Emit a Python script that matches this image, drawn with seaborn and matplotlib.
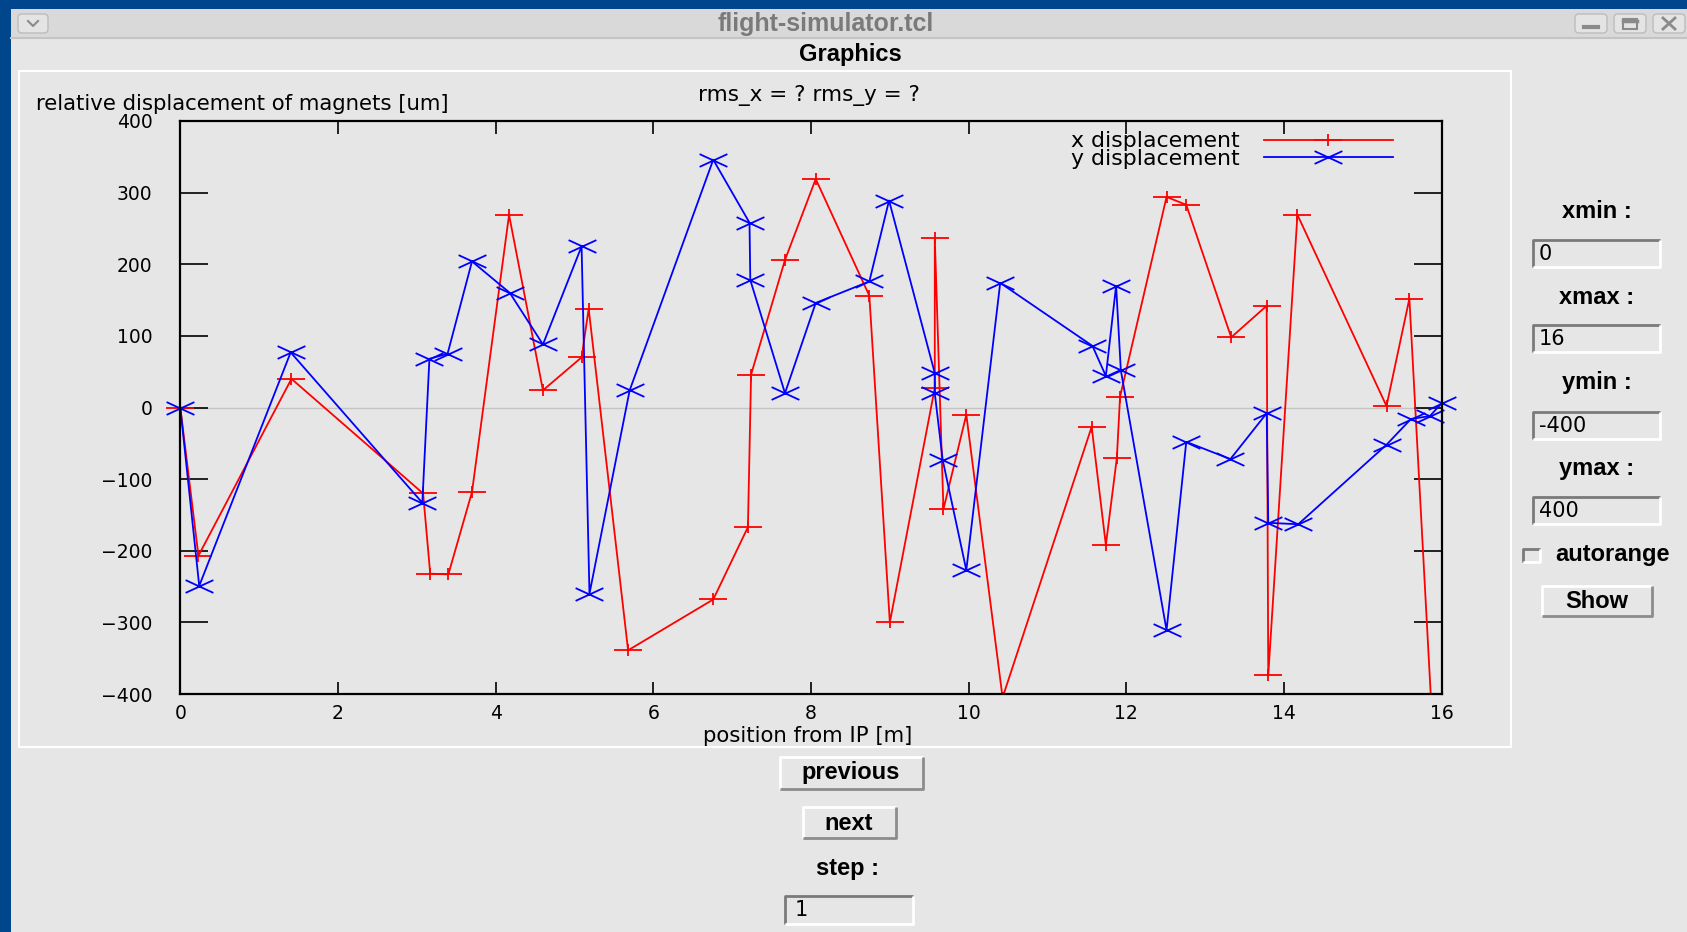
import matplotlib
matplotlib.use('Agg')
import matplotlib.pyplot as plt
from matplotlib.patches import Rectangle, FancyBboxPatch
from matplotlib.path import Path
from matplotlib.transforms import Bbox, TransformedBbox
import seaborn as sns
import pandas as pd

# --- data ---
x_pos = [0.0, 0.23, 1.41, 3.08, 3.17, 3.40, 3.70, 4.17, 4.60, 5.09, 5.18, 5.68,
         6.76, 7.20, 7.24, 7.67, 8.06, 8.74, 9.00, 9.57, 9.57, 9.68, 9.97, 10.43,
         11.56, 11.74, 11.88, 11.92, 12.51, 12.76, 13.33, 13.78, 13.80, 14.17,
         15.30, 15.59, 15.88]
x_disp = [0, -207, 40, -120, -232, -233, -118, 269, 24, 70, 138, -339,
          -268, -167, 46, 206, 319, 156, -300, 27, 237, -142, -10, -405,
          -27, -192, -70, 15, 294, 283, 98, 142, -374, 269,
          2, 152, -440]

y_pos = [0.0, 0.24, 1.40, 3.07, 3.16, 3.39, 3.70, 4.18, 4.60, 5.09, 5.19, 5.70,
         6.76, 7.22, 7.23, 7.67, 8.06, 8.74, 8.99, 9.57, 9.57, 9.67, 9.97, 10.40,
         11.57, 11.74, 11.87, 11.93, 12.51, 12.76, 13.32, 13.78, 13.80, 14.18,
         15.30, 15.61, 15.85, 16.0]
y_disp = [0, -249, 77, -133, 68, 75, 204, 160, 88, 225, -260, 24,
          346, 258, 178, 20, 146, 176, 289, 48, 20, -73, -227, 174,
          86, 44, 170, 52, -311, -48, -72, -8, -161, -163,
          -52, -16, -12, 6]

x_ticks = [0, 2, 4, 6, 8, 10, 12, 14, 16]
y_ticks = [-400, -300, -200, -100, 0, 100, 200, 300, 400]

df_x = pd.DataFrame({'pos': x_pos, 'disp': x_disp})
df_y = pd.DataFrame({'pos': y_pos, 'disp': y_disp})

# Config
W, H = 1687, 932
BLUE = '#00468c'
BG = '#e6e6e6'
FONT = 'DejaVu Sans'
GUI_FONT = 'Liberation Sans'
GUI_SIZE = 17

# gnuplot style wide markers
M, L = Path.MOVETO, Path.LINETO
plus_mark = Path([(-1, 0), (1, 0), (0, -0.43), (0, 0.43)], [M, L, M, L])
cross_mark = Path([(-1, -0.46), (1, 0.46), (-1, 0.46), (1, -0.46)], [M, L, M, L])

fig = plt.figure(figsize=(W / 100, H / 100), dpi=100)
fig.patch.set_facecolor(BLUE)

# =======================================================================
# window decoration (pixel coordinates)
# =======================================================================
gui = fig.add_axes([0, 0, 1, 1])
gui.set_xlim(0, W)
gui.set_ylim(H, 0)
gui.axis('off')


def bevel(x0, y0, x1, y1, raised=True, face=BG):
  gui.add_patch(Rectangle((x0, y0), x1 - x0, y1 - y0, fc=face, ec='none'))
  light, dark = ('white', '#8c8c8c') if raised else ('#7a7a7a', 'white')
  gui.plot([x0, x0, x1], [y1, y0, y0], color=light, lw=2, solid_capstyle='butt')
  gui.plot([x0, x1, x1], [y1, y1, y0], color=dark, lw=2, solid_capstyle='butt')


def label(x, y, text, ha='center'):
  gui.text(x, y, text, ha=ha, va='center', fontsize=GUI_SIZE,
           family=GUI_FONT, fontweight='bold')


# window body and title bar
gui.add_patch(Rectangle((11, 9), W - 11, H - 9, fc=BG, ec='none'))
gui.add_patch(Rectangle((11, 9), W - 11, 29, fc='#d9d9d9', ec='none'))
gui.plot([11, W], [38, 38], color='#c4c4c4', lw=1.5)
gui.text(826, 24, 'flight-simulator.tcl', ha='center', va='center',
         fontsize=18, color='#7a7a7a', family=GUI_FONT, fontweight='bold')

for bx0, bx1 in [(18, 48), (1575, 1607), (1614, 1646), (1653, 1685)]:
  gui.add_patch(FancyBboxPatch((bx0, 14), bx1 - bx0, 19,
                               boxstyle='round,pad=0,rounding_size=4',
                               fc='#e4e4e4', ec='#bdbdbd', lw=1))
gui.plot([28, 33, 38], [21, 26, 21], color='#8a8a8a', lw=1.5)
gui.plot([1584, 1598], [27, 27], color='#8a8a8a', lw=3)
gui.add_patch(Rectangle((1623, 19), 14, 10, fc='none', ec='#8a8a8a', lw=1.5))
gui.plot([1623, 1637], [21, 21], color='#8a8a8a', lw=2.5)
gui.plot([1663, 1675], [18, 29], color='#8a8a8a', lw=2)
gui.plot([1663, 1675], [29, 18], color='#8a8a8a', lw=2)

label(850, 54, 'Graphics')

# graphics frame
gui.add_patch(Rectangle((19, 71), 1492, 676, fc='none', ec='white', lw=1.5))

# right panel
for name, ly, ey, val in [('xmin :', 212, 240, '0'), ('xmax :', 297, 325, '16'),
                          ('ymin :', 383, 412, '-400'), ('ymax :', 469, 497, '400')]:
  label(1597, ly, name)
  bevel(1533, ey, 1660, ey + 27, raised=False)
  gui.text(1539, ey + 14, val, ha='left', va='center', fontsize=15, family=FONT)

bevel(1523, 549, 1540, 562, raised=False)
label(1555, 555, 'autorange', ha='left')
bevel(1542, 586, 1652, 616)
label(1597, 601, 'Show')

# bottom controls
bevel(780, 757, 923, 789)
label(851, 773, 'previous')
bevel(803, 807, 896, 838)
label(849, 823, 'next')
label(848, 868, 'step :')
bevel(785, 896, 913, 924, raised=False)
gui.text(795, 910, '1', ha='left', va='center', fontsize=15, family=FONT)

# plot texts
gui.text(36, 104, 'relative displacement of magnets [um]', ha='left', va='center',
         fontsize=15.3, family=FONT)
gui.text(809, 95, 'rms_x = ? rms_y = ?', ha='center', va='center',
         fontsize=15.5, family=FONT)
gui.text(808, 736, 'position from IP [m]', ha='center', va='center',
         fontsize=15.3, family=FONT)

# =======================================================================
# the gnuplot chart
# =======================================================================
left, right, top, bottom = 180.3, 1441.7, 121, 694
ax = fig.add_axes([left / W, 1 - bottom / H, (right - left) / W, (bottom - top) / H])
ax.set_facecolor('none')

ax.axhline(0, color='#c4c4c4', lw=1, zorder=1)

sns.lineplot(data=df_x, x='pos', y='disp', sort=False, estimator=None, ax=ax,
             color='red', lw=1.3, marker=plus_mark, markersize=20,
             markeredgecolor='red', markerfacecolor='none', markeredgewidth=1.3,
             label='x displacement')
sns.lineplot(data=df_y, x='pos', y='disp', sort=False, estimator=None, ax=ax,
             color='blue', lw=1.3, marker=cross_mark, markersize=20,
             markeredgecolor='blue', markerfacecolor='none', markeredgewidth=1.3,
             label='y displacement')

# gnuplot clips lines at the border but draws points at x=0 / x=16 whole
clip = TransformedBbox(Bbox([[-0.02, 0], [1.02, 1]]), ax.transAxes)
for ln in ax.get_lines()[1:]:
  ln.set_clip_box(clip)

ax.set_xlim(0, 16)
ax.set_ylim(-400, 400)
ax.set_xticks(x_ticks)
ax.set_yticks(y_ticks)
ax.set_xlabel('')
ax.set_ylabel('')
for s in ax.spines.values():
  s.set_linewidth(1.6)
ax.tick_params(axis='y', direction='in', length=20, width=1.2, left=True, right=True,
               pad=20, labelsize=13.5)
ax.tick_params(axis='x', direction='in', length=9, width=1.2, bottom=True, top=True,
               pad=7, labelsize=13.5)
for t in ax.get_xticklabels() + ax.get_yticklabels():
  t.set_family(FONT)

ax.legend(loc='upper right', bbox_to_anchor=(0.9614, 0.982), frameon=False,
          markerfirst=False, handlelength=5.9, handletextpad=1.1, labelspacing=-0.1,
          borderpad=0, borderaxespad=0, prop={'family': FONT, 'size': 15.8})

plt.savefig('out.png', dpi=100, facecolor=fig.get_facecolor())
plt.close()
